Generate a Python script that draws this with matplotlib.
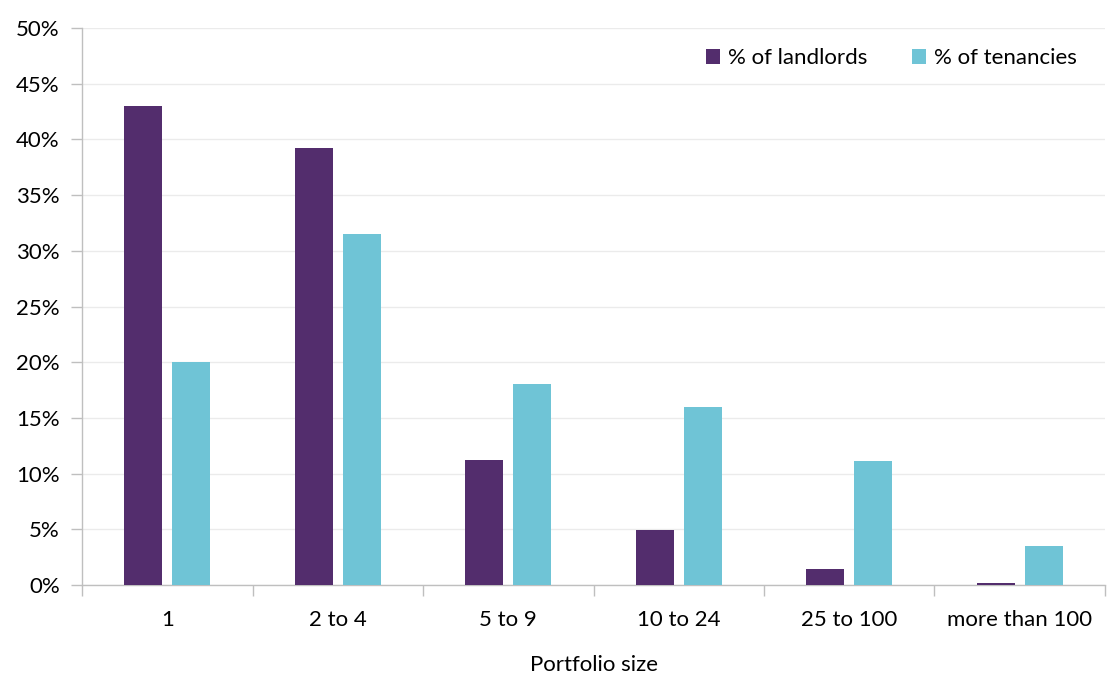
import matplotlib.pyplot as plt
import numpy as np
from matplotlib.ticker import PercentFormatter

plt.rcParams['font.family'] = ['Lato', 'DejaVu Sans']

categories = ['1', '2 to 4', '5 to 9', '10 to 24', '25 to 100', 'more than 100']
landlords = [43.0, 39.2, 11.2, 4.9, 1.4, 0.2]
tenancies = [20.0, 31.5, 18.0, 16.0, 11.1, 3.5]

purple = '#532D6D'
cyan = '#6FC4D6'
grey = '#BFBFBF'

fig = plt.figure(figsize=(11.13, 6.8), dpi=100)
ax = fig.add_axes([0.0737, 0.1397, 0.9191, 0.8191])

x = np.arange(len(categories))
w = 0.223
off = 0.141
ax.bar(x - off, landlords, w, color=purple, label='% of landlords', zorder=3)
ax.bar(x + off, tenancies, w, color=cyan, label='% of tenancies', zorder=3)

ax.set_xlim(-0.5, len(categories) - 0.5)
ax.set_ylim(0, 50)
ax.set_yticks(np.arange(0, 51, 5))
ax.yaxis.set_major_formatter(PercentFormatter(decimals=0))
ax.yaxis.grid(True, color='#EBEBEB', linewidth=1, zorder=0)

ax.set_xticks(x)
ax.set_xticklabels(categories)
ax.set_xticks(np.arange(-0.5, len(categories), 1), minor=True)
ax.tick_params(axis='x', which='major', length=0, pad=18, labelsize=16)
ax.tick_params(axis='x', which='minor', length=8, color=grey, width=1)
ax.tick_params(axis='y', length=8, color=grey, width=1, labelsize=16, pad=8)

for s in ['top', 'right']:
    ax.spines[s].set_visible(False)
for s in ['left', 'bottom']:
    ax.spines[s].set_color(grey)
    ax.spines[s].set_linewidth(1)

ax.set_xlabel('Portfolio size', fontsize=16, labelpad=18)

ax.legend(loc='upper right', ncol=2, frameon=False, fontsize=16,
          handlelength=0.65, handleheight=0.65, handletextpad=0.35,
          columnspacing=2.0, bbox_to_anchor=(0.992, 1.0))

fig.savefig('out.png', dpi=100)
